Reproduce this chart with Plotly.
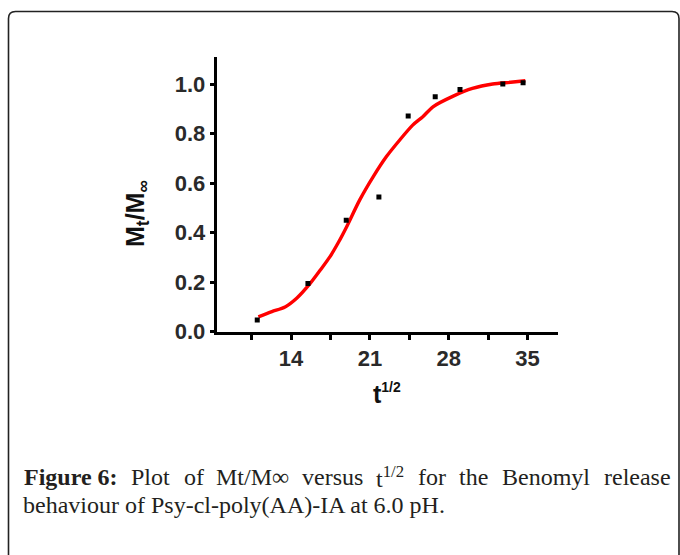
import plotly.graph_objects as go

W, H = 680, 555

# measured points
pt_t = [11.0, 15.5, 18.9, 21.8, 24.4, 26.8, 29.0, 32.8, 34.6]
pt_y = [0.047, 0.195, 0.45, 0.544, 0.871, 0.949, 0.978, 1.0, 1.005]

# fitted curve
fit_t = [11.1, 12.3, 13.47, 14.5, 15.7, 16.6, 17.46, 18.2, 18.94, 20.1, 21.3,
         22.47, 23.65, 24.8, 25.7, 26.6, 28.4, 30.1, 31.9, 33.5, 34.8]
fit_y = [0.06, 0.081, 0.10, 0.135, 0.195, 0.249, 0.303, 0.36, 0.424, 0.532, 0.626,
         0.707, 0.774, 0.834, 0.868, 0.908, 0.951, 0.982, 1.0, 1.007, 1.013]

x_ticks = [14, 21, 28, 35]
y_ticks = [0.0, 0.2, 0.4, 0.6, 0.8, 1.0]


def px(x):
    return x / W


def py(y):
    return 1 - y / H


fig = go.Figure()
fig.add_trace(go.Scatter(x=fit_t, y=fit_y, mode="lines",
                         line=dict(color="#ff0000", width=3.4, shape="spline", smoothing=0.8),
                         showlegend=False, hoverinfo="skip"))
fig.add_trace(go.Scatter(x=pt_t, y=pt_y, mode="markers",
                         marker=dict(symbol="square", size=5, color="black"),
                         showlegend=False))

tickfont = dict(family="Liberation Sans", size=22, color="#2a2a2a", weight="bold")

fig.update_layout(
    width=W, height=H,
    margin=dict(l=0, r=0, t=0, b=0),
    paper_bgcolor="white", plot_bgcolor="white",
    xaxis=dict(domain=[px(216.7), px(558)], range=[7.4, 37.7],
               tickvals=x_ticks, ticks="outside", ticklen=5, tickwidth=2.5, tickcolor="black",
               showline=True, linecolor="black", linewidth=3, showgrid=False, zeroline=False,
               tickfont=tickfont, automargin=False,
               minor=dict(tickvals=[10.5, 17.5, 24.5, 31.5], ticks="outside", ticklen=5,
                          tickwidth=2.5, tickcolor="black", showgrid=False)),
    yaxis=dict(domain=[py(331.7), py(57)], range=[0, 1.109],
               tickvals=y_ticks, tickformat=".1f", ticks="outside", ticklen=4, tickwidth=2.5,
               tickcolor="black", showline=True, linecolor="black", linewidth=3,
               showgrid=False, zeroline=False, tickfont=tickfont, automargin=False),
)

title_font = dict(family="Liberation Sans", size=25, color="#111111", weight="bold")
annotations = [
    dict(x=px(137), y=py(214), text="M<sub>t</sub>/M<sub>∞</sub>", textangle=-90,
         font=title_font, showarrow=False, xref="paper", yref="paper",
         xanchor="center", yanchor="middle"),
    dict(x=px(387), y=py(393),
         text="t<sup><span style='font-size:14px'>1/2</span></sup>",
         font=dict(family="Liberation Sans", size=25, color="#111111", weight="bold"),
         showarrow=False, xref="paper", yref="paper", xanchor="center", yanchor="middle"),
]

cap_font = dict(family="Liberation Serif", size=24, color="#231f20")
cap_bold = dict(family="Liberation Serif", size=24, color="#231f20", weight="bold")
line1 = [
    (21.7, "Figure 6:", cap_bold, "left"),
    (129, "Plot", cap_font, "left"),
    (182, "of", cap_font, "left"),
    (214, "Mt/M∞", cap_font, "left"),
    (300, "versus", cap_font, "left"),
    (374, "t<sup>1/2</sup>", cap_font, "left"),
    (416, "for", cap_font, "left"),
    (457, "the", cap_font, "left"),
    (500, "Benomyl", cap_font, "left"),
    (673, "release", cap_font, "right"),
]
for xl, txt, f, anc in line1:
    annotations.append(dict(x=px(xl), y=py(477), text=txt, font=f, showarrow=False,
                            xref="paper", yref="paper", xanchor=anc, yanchor="middle"))
annotations.append(dict(x=px(21.7), y=py(505), text="behaviour of Psy-cl-poly(AA)-IA at 6.0 pH.",
                        font=cap_font, showarrow=False, xref="paper", yref="paper",
                        xanchor="left", yanchor="middle", xshift=-1))
fig.update_layout(annotations=annotations)

# rounded border box
x0, y0, x1, y1, r = 8.5, 11.5, 679, 562, 7
path = (f"M {px(x0)},{py(y0 + r)} Q {px(x0)},{py(y0)} {px(x0 + r)},{py(y0)} "
        f"L {px(x1 - r)},{py(y0)} Q {px(x1)},{py(y0)} {px(x1)},{py(y0 + r)} "
        f"L {px(x1)},{py(y1 - r)} Q {px(x1)},{py(y1)} {px(x1 - r)},{py(y1)} "
        f"L {px(x0 + r)},{py(y1)} Q {px(x0)},{py(y1)} {px(x0)},{py(y1 - r)} Z")
fig.add_shape(type="path", path=path, xref="paper", yref="paper",
              line=dict(color="#222222", width=1.6), fillcolor="rgba(0,0,0,0)")

fig.write_html("out.html")
